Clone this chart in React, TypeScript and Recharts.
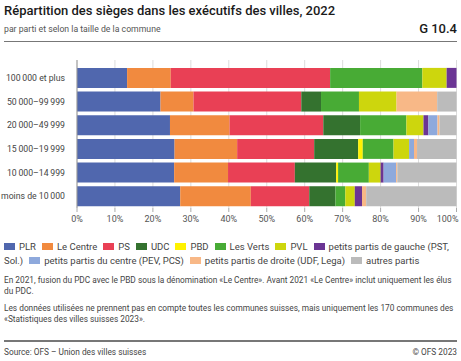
import React from 'react';
import { BarChart, Bar, XAxis, YAxis, CartesianGrid } from 'recharts';

const categories = ['100\u2009000 et plus', '50\u2009000–99\u2009999', '20\u2009000–49\u2009999', '15\u2009000–19\u2009999', '10\u2009000–14\u2009999', 'moins de 10\u2009000'];
const seriesKeys = ['PLR', 'Le Centre', 'PS', 'UDC', 'PBD', 'Les Verts', 'PVL', 'petits partis de gauche (PST, Sol.)', 'petits partis du centre (PEV, PCS)', 'petits partis de droite (UDF, Lega)', 'autres partis'];
const PLR = [13.2, 22.0, 24.5, 25.7, 25.6, 27.2];
const LeCentre = [11.5, 8.7, 15.7, 16.5, 14.2, 18.6];
const PS = [42.0, 28.4, 24.7, 20.3, 17.6, 15.4];
const UDC = [0, 5.2, 9.7, 11.6, 10.9, 6.9];
const PBD = [0, 0, 0, 1.2, 0.5, 0];
const Verts = [24.3, 10.0, 12.2, 8.1, 8.1, 2.6];
const PVL = [6.4, 9.9, 4.5, 4.1, 3.1, 2.5];
const Gauche = [2.6, 0, 1.3, 0, 0.8, 1.9];
const CentrePetits = [0, 0, 2.4, 1.3, 3.3, 0];
const Droite = [0, 10.7, 0.5, 0.8, 0.3, 1.1];
const Autres = [0, 5.1, 4.5, 10.4, 15.6, 23.8];
const xTicks = [0, 10, 20, 30, 40, 50, 60, 70, 80, 90, 100];

const seriesValues = [PLR, LeCentre, PS, UDC, PBD, Verts, PVL, Gauche, CentrePetits, Droite, Autres];
const colors = ['#5067ae', '#f18a3f', '#e94055', '#34722f', '#fff200', '#48ab35', '#cdd60d', '#6b3594', '#8ea9dc', '#f8b887', '#bbbbbb'];

const data = categories.map((cat, i) => {
  const row: Record<string, any> = { cat };
  seriesKeys.forEach((k, j) => { row[k] = seriesValues[j][i]; });
  return row;
});

const font = 'Roboto, "Noto Sans", sans-serif';

const YTick = (props: any) => {
  const { x, y, payload } = props;
  return (
    <text x={x - 4} y={y} dy={3.2} textAnchor="end" fontSize={8.7} fill="#444" fontFamily={font}>
      {payload.value}
    </text>
  );
};

const XTick = (props: any) => {
  const { x, y, payload } = props;
  const last = payload.value === 100;
  return (
    <text x={last ? x + 2 : x} y={y} dy={8} textAnchor={last ? 'end' : 'middle'} fontSize={9} fill="#555" fontFamily={font}>
      {`${payload.value}%`}
    </text>
  );
};

export default function App() {
  return (
    <div style={{ position: 'absolute', left: 0, top: 0, width: 461, height: 361, background: '#fff', fontFamily: font, overflow: 'hidden' }}>
      <div style={{ position: 'absolute', left: 4, top: 3, fontSize: 13, fontWeight: 500, color: '#1a1a1a', whiteSpace: 'nowrap' }}>
        Répartition des sièges dans les exécutifs des villes, 2022
      </div>
      <div style={{ position: 'absolute', left: 4, top: 24, fontSize: 8.7, color: '#555', whiteSpace: 'nowrap' }}>
        par parti et selon la taille de la commune
      </div>
      <div style={{ position: 'absolute', right: 4, top: 21, fontSize: 13, fontWeight: 500, color: '#1a1a1a' }}>G 10.4</div>
      <div style={{ position: 'absolute', left: 4, top: 40.5, width: 453, height: 1.5, background: '#777' }} />

      <div style={{ position: 'absolute', left: 0, top: 0 }}>
        <BarChart width={461} height={230} data={data} layout="vertical" margin={{ top: 60, right: 4.5, bottom: 0, left: 0 }} barCategoryGap="8%">
          <CartesianGrid horizontal={false} stroke="#dcdcdc" />
          <XAxis type="number" domain={[0, 100]} ticks={xTicks} axisLine={false} tickLine={{ stroke: '#aaa' }} tickSize={4} height={22} tick={<XTick />} interval={0} />
          <YAxis type="category" dataKey="cat" width={77} padding={{ top: 6, bottom: 0 }} axisLine={{ stroke: '#999' }} tickLine={false} tick={<YTick />} />
          {seriesKeys.map((k, j) => (
            <Bar key={k} dataKey={k} stackId="a" fill={colors[j]} isAnimationActive={false} />
          ))}
        </BarChart>
      </div>

      <div style={{ position: 'absolute', left: 4, top: 240, width: 455, fontSize: 9.5, lineHeight: '13.5px', color: '#444' }}>
        {seriesKeys.map((k, j) => (
          <span key={k} style={{ marginRight: 6 }}>
            <span style={{ display: 'inline-block', width: 11, height: 7, background: colors[j], marginRight: 4, verticalAlign: 'baseline' }} />
            {k}
          </span>
        ))}
      </div>

      <div style={{ position: 'absolute', left: 4, top: 275, width: 455, fontSize: 8.3, lineHeight: '11px', color: '#444' }}>
        En 2021, fusion du PDC avec le PBD sous la dénomination «Le Centre». Avant 2021 «Le Centre» inclut uniquement les élus du PDC.
      </div>
      <div style={{ position: 'absolute', left: 4, top: 303, width: 455, fontSize: 8.3, lineHeight: '11px', color: '#444' }}>
        Les données utilisées ne prennent pas en compte toutes les communes suisses, mais uniquement les 170 communes des «Statistiques des villes suisses 2023».
      </div>
      <div style={{ position: 'absolute', left: 4, top: 340, width: 453, height: 1.5, background: '#777' }} />
      <div style={{ position: 'absolute', left: 4, top: 347, fontSize: 8.3, color: '#444' }}>Source: OFS – Union des villes suisses</div>
      <div style={{ position: 'absolute', right: 4, top: 347, fontSize: 8.3, color: '#444' }}>© OFS 2023</div>
    </div>
  );
}
